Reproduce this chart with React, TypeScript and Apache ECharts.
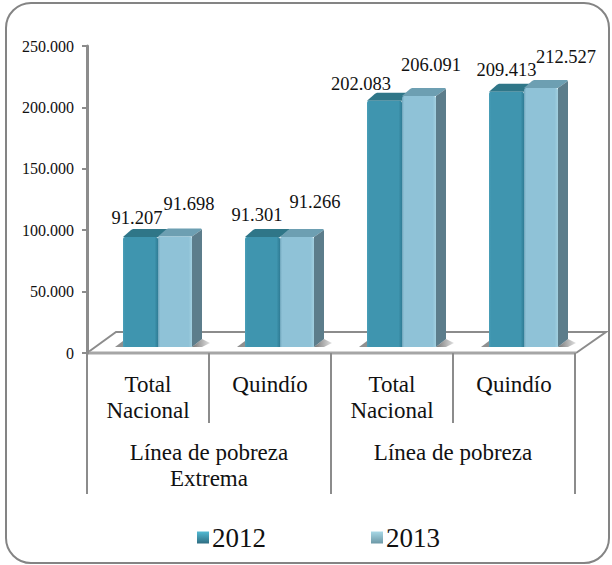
import React, { useEffect, useRef } from "react";
import * as echarts from "echarts";

const subCategories = ["Total\nNacional", "Quindío", "Total\nNacional", "Quindío"];
const groupCategories = ["Línea de pobreza\nExtrema", "Línea de pobreza"];
const values2012 = [91207, 91301, 202083, 209413];
const values2013 = [91698, 91266, 206091, 212527];
const labelOffsets2012 = [[-3.5, -19], [-5.5, -22], [-23.5, -17], [0, -22]];
const labelOffsets2013 = [[14, -32], [18, -35], [12, -31], [25, -31]];

const fmt = (v: number) =>
  v === 0 ? "0" : `${Math.floor(v / 1000)}.${String(v % 1000).padStart(3, "0")}`;

const FONT = "Liberation Serif";
const GREY = "#8c8c8c";
const DX = 10;
const DY = 8;

function bar3d(
  kind: "a" | "b",
  offsets: number[][],
  front: string[],
  top: string,
  side: string,
) {
  return (params: any, api: any) => {
    const idx = params.dataIndex;
    const val = api.value(1);
    const center = api.coord([api.value(0), 0])[0];
    const zeroY = api.coord([api.value(0), 0])[1];
    const yt = api.coord([api.value(0), val])[1] - 4;
    const yb = zeroY - 6;
    const x0 = center + (kind === "a" ? -25 : 10);
    const x1 = center + (kind === "a" ? 10 : 44);
    const grad = new echarts.graphic.LinearGradient(0, 0, 1, 0, [
      { offset: 0, color: front[0] },
      { offset: 0.06, color: front[1] },
      { offset: 0.9, color: front[1] },
      { offset: 1, color: front[2] },
    ]);
    const children: any[] = [];
    if (kind === "a") {
      children.push({
        type: "polygon",
        shape: { points: [[x0 - 8, yb], [x0, yb], [x0, yb - 6]] },
        style: { fill: "rgba(70,70,70,0.6)" },
      });
    } else {
      children.push({
        type: "polygon",
        shape: {
          points: [[x1, yb], [x1 + DX, yb - DY], [x1 + DX + 8, yb - 4], [x1 + DX, yb]],
        },
        style: {
          fill: new echarts.graphic.LinearGradient(0, 0, 1, 0, [
            { offset: 0, color: "rgba(60,60,60,0.7)" },
            { offset: 1, color: "rgba(60,60,60,0.15)" },
          ]),
        },
      });
    }
    children.push({
      type: "polygon",
      shape: {
        points: [
          [x0, yt],
          [x0 + DX - 2, yt - DY + 1],
          [x0 + DX, yt - DY],
          [x1 + DX - 1, yt - DY],
          [x1 + DX, yt - DY + 1],
          [x1, yt],
        ],
      },
      style: { fill: top },
    });
    if (kind === "b") {
      children.push({
        type: "polygon",
        shape: {
          points: [[x1, yt], [x1 + DX, yt - DY + 1], [x1 + DX, yb - DY], [x1, yb]],
        },
        style: { fill: side },
      });
    }
    children.push({
      type: "rect",
      shape: { x: x0, y: yt, width: x1 - x0, height: yb - yt, r: [2, 2, 0, 0] },
      style: { fill: grad },
    });
    const [ox, oy] = offsets[idx];
    children.push({
      type: "text",
      x: (x0 + x1) / 2 + ox,
      y: yt + oy,
      style: {
        text: fmt(val),
        font: `18.5px "${FONT}"`,
        fill: "#111",
        align: "center",
        verticalAlign: "middle",
      },
    });
    return { type: "group", children };
  };
}

export default function App() {
  const ref = useRef<HTMLDivElement>(null);
  useEffect(() => {
    const chart = echarts.init(ref.current!, undefined, { renderer: "svg" });
    const swatch = (a: string, b: string) =>
      new echarts.graphic.LinearGradient(0, 0, 0, 1, [
        { offset: 0, color: a },
        { offset: 1, color: b },
      ]);
    chart.setOption({
      animation: false,
      backgroundColor: "#fff",
      grid: { left: 87, top: 46, width: 488, height: 307 },
      xAxis: [
        {
          type: "category",
          position: "bottom",
          data: subCategories,
          axisLine: { show: false },
          axisTick: { show: true, length: 70, lineStyle: { color: GREY, width: 2 } },
          axisLabel: {
            margin: 18,
            interval: 0,
            fontFamily: FONT,
            fontSize: 23,
            color: "#111",
            lineHeight: 26,
            verticalAlign: "top",
          },
        },
        {
          type: "category",
          position: "bottom",
          data: groupCategories,
          axisLine: { show: false },
          axisTick: { show: true, length: 141, lineStyle: { color: GREY, width: 2 } },
          axisLabel: {
            margin: 86,
            interval: 0,
            fontFamily: FONT,
            fontSize: 23,
            color: "#111",
            lineHeight: 26,
            verticalAlign: "top",
          },
        },
      ],
      yAxis: {
        type: "value",
        min: 0,
        max: 250000,
        interval: 50000,
        splitLine: { show: false },
        axisLine: { show: true, lineStyle: { color: GREY, width: 3 } },
        axisTick: { show: true, length: 5, lineStyle: { color: GREY, width: 2 } },
        axisLabel: {
          margin: 13,
          fontFamily: FONT,
          fontSize: 16,
          color: "#111",
          formatter: (v: number) => fmt(v),
        },
      },
      legend: {
        left: 197,
        top: 524,
        padding: 0,
        itemWidth: 12,
        itemHeight: 12,
        itemGap: 105,
        icon: "rect",
        textStyle: { fontFamily: FONT, fontSize: 27, color: "#111", padding: [0, 0, 0, -2] },
        data: ["2012", "2013"],
      },
      graphic: [
        {
          type: "rect",
          z: -10,
          shape: { x: 6, y: 3, width: 603, height: 560, r: 25 },
          style: { fill: "#fff", stroke: "#848484", lineWidth: 2 },
        },
        {
          type: "polyline",
          z: -5,
          shape: { points: [[87, 353], [116, 332], [606, 332], [576, 353]] },
          style: { fill: "none", stroke: GREY, lineWidth: 2 },
        },
        {
          type: "line",
          z: -5,
          shape: { x1: 86, y1: 353, x2: 576, y2: 353 },
          style: { stroke: "#a6a6a6", lineWidth: 3 },
        },
      ],
      series: [
        {
          name: "2012",
          type: "custom",
          clip: false,
          renderItem: bar3d("a", labelOffsets2012, ["#4a9fb8", "#3f95af", "#2f7c95"], "#2f7688", "#2f7688"),
          itemStyle: { color: swatch("#52bad3", "#2f6d82") },
          data: values2012.map((v, i) => [i, v]),
          encode: { x: 0, y: 1 },
          z: 3,
        },
        {
          name: "2013",
          type: "custom",
          clip: false,
          renderItem: bar3d("b", labelOffsets2013, ["#6fa5bb", "#8fc2d7", "#a2d0e0"], "#6d9fb2", "#5c7d8b"),
          itemStyle: { color: swatch("#a8d8e6", "#6c98a6") },
          data: values2013.map((v, i) => [i, v]),
          encode: { x: 0, y: 1 },
          z: 4,
        },
      ],
    });
    return () => chart.dispose();
  }, []);
  return (
    <div
      ref={ref}
      style={{ position: "fixed", left: 0, top: 0, width: 612, height: 565 }}
    />
  );
}
